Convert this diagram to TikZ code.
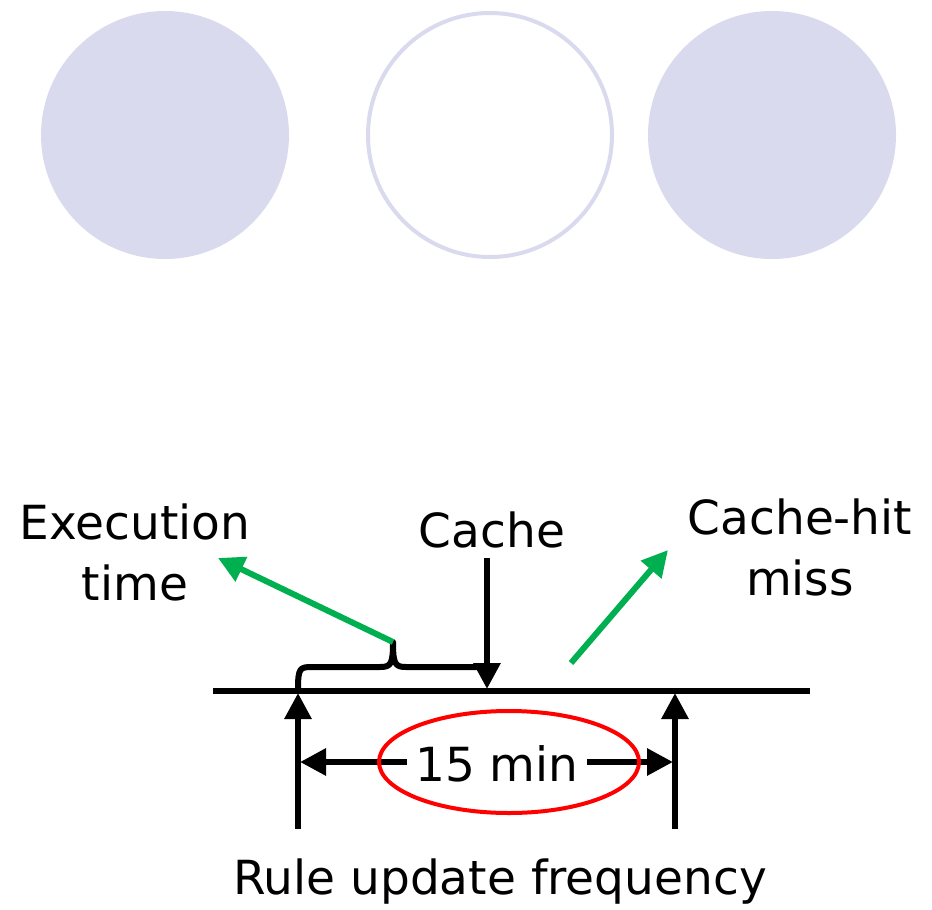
\documentclass[tikz,border=0pt]{standalone}
\usepackage{fontspec}
\setmainfont{DejaVu Sans}
\usetikzlibrary{arrows.meta}
\definecolor{lav}{HTML}{DADAEE}
\definecolor{grn}{HTML}{00B050}
\begin{document}
\begin{tikzpicture}[x=1pt,y=-1pt,
  lbl/.style={font=\fontsize{47}{61}\selectfont, inner sep=0pt, align=center},
  blk/.style={line width=6pt, draw=black},
  tip/.style={-{Triangle[length=26pt,width=26pt]}},
  blkarrow/.style={blk, tip},
  grnarrow/.style={line width=6pt, draw=grn, tip}]
\useasboundingbox (0,0) rectangle (932,910);
\fill[lav] (165,135) circle[radius=124] coordinate (c1);
\draw[lav, line width=4pt] (490,135) circle[radius=122];
\coordinate (c2) at (490,135);
\fill[lav] (772,135) circle[radius=124] coordinate (c3);

\coordinate (tl) at (213,691);
\coordinate (tr) at (810,691);
\draw[blk] (tl) -- (tr);

\coordinate (la0) at (298,829);
\coordinate (la1) at (298,693);
\coordinate (ra0) at (675,829);
\coordinate (ra1) at (675,693);
\draw[blkarrow] (la0) -- (la1);
\draw[blkarrow] (ra0) -- (ra1);

\coordinate (ca0) at (487,558);
\coordinate (ca1) at (487,689);
\draw[blkarrow] (ca0) -- (ca1);

% brace
\coordinate (bcusp) at (393,642);
\draw[blk, line join=round] (298,689) .. controls (298,668) and (300,667) .. (312,667) -- (380,667)
  .. controls (391,667) and (393,664) .. (bcusp)
  .. controls (393,664) and (395,667) .. (406,667) -- (487,667);

\coordinate (g1) at (218,558);
\draw[grnarrow] (bcusp) -- (g1);
\coordinate (g2a) at (571,663);
\coordinate (g2b) at (668,550);
\draw[grnarrow] (g2a) -- (g2b);

% dimension
\node[lbl, inner xsep=8pt] (fifteen) at (497,764) {15 min};
\coordinate (dl) at (300,762);
\coordinate (dr) at (673,762);
\draw[blk, tip] (fifteen.west |- dl) -- (dl);
\draw[blk, tip] (fifteen.east |- dr) -- (dr);
\draw[red, line width=4pt] (509,762) ellipse[x radius=130, y radius=51];
\node[lbl, fill=white, inner xsep=4pt] (fifteen2) at (497,764) {15 min};

\node[lbl] (exec) at (135,552) {Execution\\time};
\node[lbl] (cache) at (492,530) {Cache};
\node[lbl] (hit) at (800,547) {Cache-hit\\miss};
\node[lbl] (rule) at (500,882) {Rule update frequency};
\end{tikzpicture}
\end{document}
